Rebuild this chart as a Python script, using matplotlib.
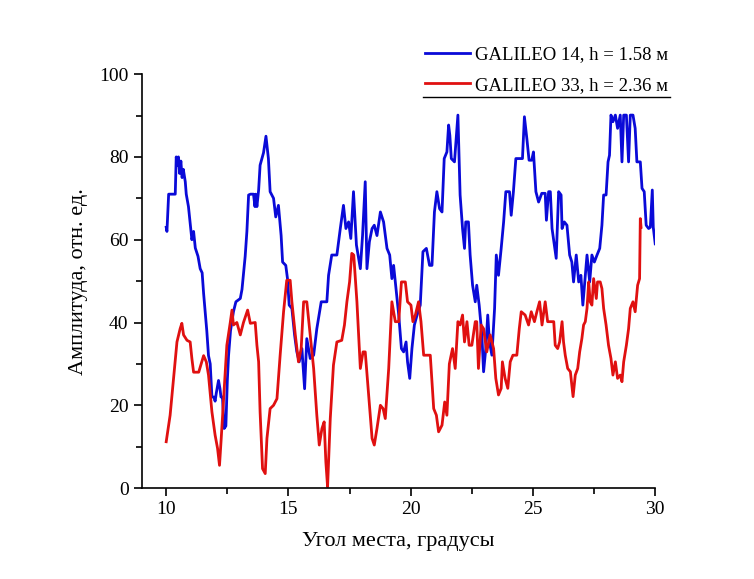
import matplotlib.pyplot as plt
from matplotlib.lines import Line2D
from matplotlib.ticker import MultipleLocator

plt.rcParams['font.family'] = ['Liberation Serif', 'DejaVu Serif']

# GALILEO 14, h = 1.58 m
g14_angle = [10.00, 10.03, 10.10, 10.37, 10.41, 10.45, 10.50, 10.55, 10.60, 10.65,
             10.70, 10.78, 10.82, 10.91, 10.98, 11.05, 11.12, 11.19, 11.30, 11.39,
             11.47, 11.53, 11.66, 11.73, 11.80, 11.87, 11.95, 12.00, 12.05, 12.14,
             12.20, 12.24, 12.30, 12.37, 12.44, 12.50, 12.55, 12.63, 12.75, 12.85,
             13.03, 13.10, 13.23, 13.30, 13.37, 13.45, 13.57, 13.63, 13.66, 13.71,
             13.78, 13.84, 13.98, 14.08, 14.18, 14.25, 14.39, 14.48, 14.59, 14.70,
             14.76, 14.89, 14.96, 15.03, 15.14, 15.25, 15.34, 15.44, 15.55, 15.66,
             15.75, 15.89, 16.03, 16.16, 16.34, 16.57, 16.64, 16.77, 16.98, 17.12,
             17.25, 17.35, 17.46, 17.55, 17.66, 17.78, 17.94, 18.03, 18.14, 18.21,
             18.31, 18.42, 18.51, 18.62, 18.76, 18.89, 19.03, 19.14, 19.23, 19.30,
             19.40, 19.51, 19.62, 19.71, 19.81, 19.87, 19.96, 20.05, 20.15, 20.26,
             20.39, 20.50, 20.64, 20.77, 20.87, 20.97, 21.07, 21.18, 21.28, 21.37,
             21.48, 21.55, 21.60, 21.66, 21.79, 21.93, 22.02, 22.12, 22.20, 22.25,
             22.36, 22.43, 22.53, 22.64, 22.70, 22.80, 22.91, 22.98, 23.07, 23.15,
             23.22, 23.32, 23.43, 23.50, 23.59, 23.70, 23.80, 23.89, 24.04, 24.11,
             24.20, 24.30, 24.41, 24.57, 24.65, 24.75, 24.84, 24.95, 25.02, 25.12,
             25.23, 25.36, 25.50, 25.55, 25.64, 25.71, 25.78, 25.95, 26.05, 26.15,
             26.19, 26.28, 26.39, 26.50, 26.59, 26.66, 26.77, 26.87, 26.96, 27.04,
             27.14, 27.21, 27.32, 27.41, 27.51, 27.62, 27.73, 27.82, 27.89, 27.99,
             28.07, 28.13, 28.19, 28.27, 28.37, 28.46, 28.57, 28.64, 28.71, 28.82,
             28.91, 28.98, 29.09, 29.18, 29.25, 29.39, 29.46, 29.55, 29.63, 29.73,
             29.80, 29.88, 29.92, 30.00]
g14_amp = [63.0, 62.0, 71.0, 71.0, 80.0, 78.0, 80.0, 76.0, 79.0, 75.0,
           77.0, 74.0, 71.0, 68.0, 64.0, 60.0, 62.0, 58.0, 56.0, 53.0,
           52.0, 47.0, 38.0, 32.0, 30.0, 22.0, 22.0, 21.0, 23.0, 26.0,
           24.0, 22.0, 22.0, 14.4, 15.0, 26.0, 32.0, 38.0, 42.6, 45.0,
           45.8, 48.0, 56.0, 62.0, 70.8, 71.0, 71.0, 68.0, 71.0, 68.0,
           72.0, 78.0, 81.0, 85.0, 79.6, 71.6, 70.0, 65.5, 68.3, 61.0,
           54.6, 53.8, 50.6, 44.2, 43.4, 37.0, 33.0, 30.5, 33.7, 24.0,
           36.1, 31.3, 32.1, 38.5, 45.0, 45.0, 51.4, 56.3, 56.3, 62.7,
           68.3, 62.7, 64.3, 60.3, 71.6, 58.7, 53.0, 61.0, 74.0, 53.0,
           59.5, 62.7, 63.5, 61.0, 66.7, 64.3, 57.9, 56.3, 50.6, 53.8,
           48.2, 41.8, 33.7, 32.9, 35.3, 30.5, 26.5, 33.7, 39.4, 41.8,
           44.2, 57.1, 57.9, 53.8, 53.8, 66.7, 71.6, 67.5, 66.7, 79.6,
           81.2, 87.7, 85.2, 79.6, 78.8, 90.1, 70.8, 62.7, 57.9, 64.3,
           64.3, 56.3, 49.0, 45.0, 49.0, 44.2, 37.0, 28.1, 33.7, 41.8,
           35.3, 32.1, 43.4, 56.3, 51.4, 57.9, 64.3, 71.6, 71.6, 65.9,
           71.6, 79.6, 79.6, 79.6, 89.7, 84.4, 79.2, 79.2, 81.2, 71.6,
           69.1, 71.2, 71.2, 64.7, 71.6, 71.6, 62.7, 55.5, 71.6, 70.8,
           62.7, 64.3, 63.5, 56.3, 54.6, 49.8, 56.3, 49.8, 51.4, 44.2,
           51.4, 56.3, 49.8, 56.3, 54.6, 56.3, 57.9, 63.5, 70.8, 70.8,
           78.8, 80.4, 90.1, 88.5, 90.1, 86.9, 90.1, 78.8, 90.1, 90.1,
           78.8, 90.1, 90.1, 86.9, 78.8, 78.8, 72.4, 71.6, 63.5, 62.7,
           63.0, 72.0, 63.0, 59.0]

# GALILEO 33, h = 2.36 m
g33_angle = [10.00, 10.16, 10.30, 10.44, 10.57, 10.64, 10.71, 10.85, 10.98, 11.05,
             11.12, 11.33, 11.53, 11.64, 11.73, 11.87, 12.00, 12.10, 12.18, 12.25,
             12.34, 12.48, 12.62, 12.69, 12.75, 12.89, 13.03, 13.16, 13.33, 13.44,
             13.64, 13.71, 13.78, 13.84, 13.94, 14.05, 14.12, 14.25, 14.39, 14.53,
             14.66, 14.80, 14.93, 15.07, 15.14, 15.28, 15.41, 15.52, 15.62, 15.75,
             15.89, 16.03, 16.16, 16.26, 16.37, 16.46, 16.53, 16.60, 16.71, 16.84,
             16.98, 17.18, 17.29, 17.39, 17.50, 17.59, 17.67, 17.80, 17.94, 18.05,
             18.14, 18.28, 18.42, 18.51, 18.62, 18.76, 18.87, 18.96, 19.10, 19.23,
             19.37, 19.51, 19.62, 19.78, 19.87, 20.01, 20.09, 20.19, 20.32, 20.42,
             20.53, 20.69, 20.80, 20.94, 21.05, 21.14, 21.28, 21.39, 21.48, 21.58,
             21.71, 21.82, 21.93, 22.02, 22.12, 22.20, 22.30, 22.39, 22.50, 22.64,
             22.70, 22.77, 22.88, 22.98, 23.11, 23.25, 23.39, 23.48, 23.59, 23.70,
             23.75, 23.86, 23.97, 24.07, 24.18, 24.34, 24.44, 24.52, 24.68, 24.82,
             24.93, 25.06, 25.16, 25.27, 25.30, 25.37, 25.50, 25.60, 25.85, 25.91,
             26.01, 26.09, 26.19, 26.25, 26.32, 26.42, 26.53, 26.59, 26.64, 26.73,
             26.83, 26.91, 27.00, 27.07, 27.14, 27.21, 27.28, 27.34, 27.41, 27.48,
             27.59, 27.64, 27.75, 27.82, 27.89, 27.99, 28.09, 28.19, 28.27, 28.37,
             28.46, 28.57, 28.64, 28.71, 28.82, 28.91, 28.98, 29.09, 29.18, 29.28,
             29.36, 29.39, 29.42]
g33_amp = [11.2, 17.6, 26.5, 35.3, 38.5, 39.8, 37.0, 35.7, 35.3, 31.3,
           28.0, 28.0, 32.0, 30.5, 27.3, 18.4, 12.8, 9.6, 5.5, 12.0,
           20.8, 34.5, 40.0, 43.0, 39.4, 40.0, 37.0, 40.0, 43.0, 39.8,
           40.0, 34.5, 30.5, 18.4, 4.7, 3.5, 12.0, 19.2, 20.0, 21.6,
           32.1, 42.6, 50.2, 50.2, 45.0, 37.0, 30.5, 33.7, 45.0, 45.0,
           37.0, 28.9, 17.6, 10.4, 14.4, 16.0, 6.3, 0.3, 16.8, 29.7,
           35.3, 35.7, 39.4, 45.0, 49.8, 56.7, 56.3, 45.0, 28.9, 32.9,
           32.9, 22.5, 12.0, 10.4, 14.4, 20.0, 19.2, 16.8, 28.9, 45.0,
           40.2, 40.2, 49.8, 49.8, 45.0, 44.2, 40.2, 41.8, 45.0, 40.2,
           32.1, 32.1, 32.1, 19.2, 17.6, 13.6, 15.2, 20.8, 17.6, 30.0,
           33.7, 28.9, 40.2, 39.4, 41.8, 35.3, 40.2, 34.5, 34.5, 40.2,
           40.2, 28.9, 39.4, 38.5, 32.9, 37.0, 33.7, 26.5, 22.5, 24.1,
           30.5, 26.5, 24.1, 30.5, 32.1, 32.1, 38.5, 42.6, 41.8, 39.4,
           42.6, 40.2, 42.6, 45.0, 43.4, 39.4, 45.0, 40.2, 40.2, 34.5,
           33.7, 35.3, 40.2, 35.3, 32.1, 28.9, 28.1, 24.9, 22.1, 27.3,
           28.9, 32.9, 36.1, 39.4, 40.2, 43.4, 49.8, 45.0, 44.2, 50.6,
           45.8, 49.8, 49.8, 48.2, 43.4, 39.4, 34.5, 31.3, 27.3, 30.5,
           26.5, 27.3, 25.7, 30.5, 34.5, 38.5, 43.4, 45.0, 42.6, 49.0,
           50.6, 65.1, 63.0]

fig = plt.figure(figsize=(7.54, 5.79), dpi=100)
ax = fig.add_axes([0.188, 0.157, 0.681, 0.715])

ax.plot(g14_angle, g14_amp, color='#0a0ad8', lw=2.0, label='GALILEO 14, h = 1.58 м')
ax.plot(g33_angle, g33_amp, color='#e01010', lw=2.0, label='GALILEO 33, h = 2.36 м')

ax.set_xlim(9, 30)
ax.set_ylim(0, 100)
ax.xaxis.set_minor_locator(MultipleLocator(2.5))
ax.yaxis.set_major_locator(MultipleLocator(20))
ax.yaxis.set_minor_locator(MultipleLocator(10))
ax.set_xticks([10, 15, 20, 25, 30])
ax.tick_params(which='major', direction='out', length=6, width=1.2, labelsize=14)
ax.tick_params(which='minor', direction='out', length=4, width=1.2)

for side in ('top', 'right'):
    ax.spines[side].set_visible(False)
for side in ('left', 'bottom'):
    ax.spines[side].set_linewidth(1.2)

ax.set_xlabel('Угол места, градусы', fontsize=16, labelpad=10)
ax.set_ylabel('Амплитуда, отн. ед.', fontsize=16, labelpad=8)

# legend sits above the plot area, underlined like an Origin legend
leg = ax.legend(loc='upper right', bbox_to_anchor=(1.025, 1.068), frameon=False,
                fontsize=13.5, handlelength=2.4, handletextpad=0.25,
                labelspacing=0.72, borderpad=0, borderaxespad=0)
ax.add_line(Line2D([0.548, 1.029], [0.944, 0.944], transform=ax.transAxes,
                   color='black', lw=1.0, clip_on=False))

fig.savefig('out.png', dpi=100)
